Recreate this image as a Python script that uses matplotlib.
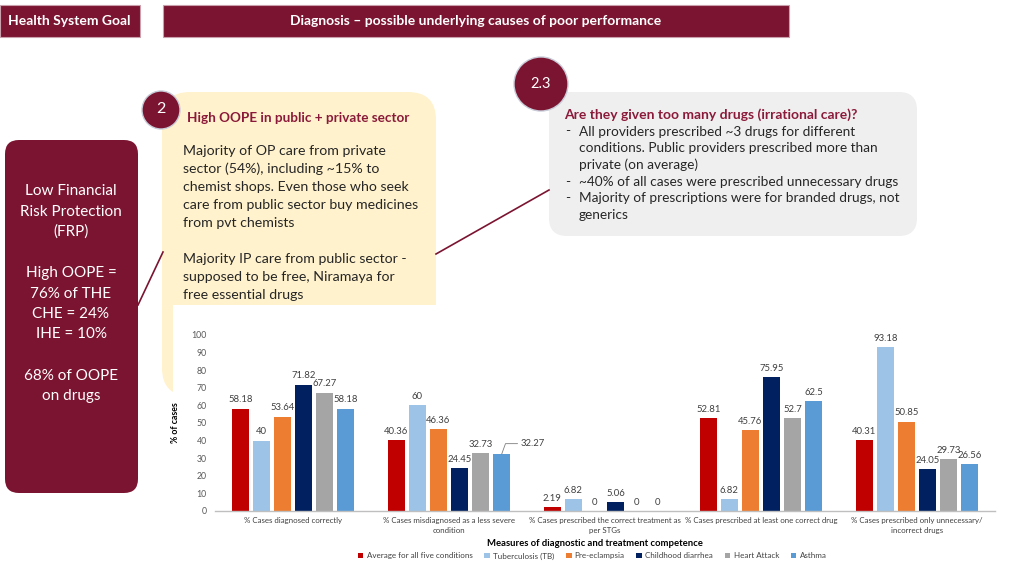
import matplotlib
matplotlib.use("Agg")
import matplotlib.pyplot as plt
from matplotlib.patches import FancyBboxPatch, Rectangle, Circle
from matplotlib.lines import Line2D
import numpy as np

plt.rcParams['font.family'] = ['Lato', 'DejaVu Sans']

# ---------------- data ----------------
categories = [
    "% Cases diagnosed correctly",
    "% Cases misdiagnosed as a less severe\ncondition",
    "% Cases prescribed the correct treatment as\nper STGs",
    "% Cases prescribed at least one correct drug",
    "% Cases prescribed only unnecessary/\nincorrect drugs",
]
series_names = ["Average for all five conditions", "Tuberculosis (TB)", "Pre-eclampsia",
                "Childhood diarrhea", "Heart Attack", "Asthma"]
avg_all = [58.18, 40.36, 2.19, 52.81, 40.31]
tb = [40, 60, 6.82, 6.82, 93.18]
pre_eclampsia = [53.64, 46.36, 0, 45.76, 50.85]
childhood_diarrhea = [71.82, 24.45, 5.06, 75.95, 24.05]
heart_attack = [67.27, 32.73, 0, 52.7, 29.73]
asthma = [58.18, 32.27, 0, 62.5, 26.56]
yticks = list(range(0, 101, 10))

series = [avg_all, tb, pre_eclampsia, childhood_diarrhea, heart_attack, asthma]
colors = ["#C00000", "#9DC3E6", "#ED7D31", "#002060", "#A5A5A5", "#5B9BD5"]

MAROON = "#7B1430"
W, H = 1024, 576
fig = plt.figure(figsize=(W / 100, H / 100), dpi=100)

# background overlay axes in pixel coords
bg = fig.add_axes([0, 0, 1, 1], zorder=0)
bg.set_xlim(0, W)
bg.set_ylim(H, 0)
bg.axis("off")

def rbox(x0, y0, x1, y1, r, fc, ec="none", lw=0, z=1):
    p = FancyBboxPatch((x0 + r, y0 + r), (x1 - x0) - 2 * r, (y1 - y0) - 2 * r,
                       boxstyle=f"round,pad={r}", fc=fc, ec=ec, lw=lw, zorder=z)
    bg.add_patch(p)

# header boxes
bg.add_patch(Rectangle((0, 5), 140, 32, fc=MAROON, ec="#C9A0AC", lw=0.8, zorder=1))
bg.text(69, 21, "Health System Goal", color="white", fontsize=10, fontweight="bold",
        ha="center", va="center", zorder=2)
bg.add_patch(Rectangle((163, 5), 626, 32, fc=MAROON, ec="#C9A0AC", lw=0.8, zorder=1))
bg.text(476, 21, "Diagnosis \u2013 possible underlying causes of poor performance", color="white",
        fontsize=10, fontweight="bold", ha="center", va="center", zorder=2)

# left maroon box
rbox(5, 140, 138, 493, 14, MAROON, z=1)
left_lines = ["Low Financial", "Risk Protection", "(FRP)", "", "High OOPE =", "76% of THE",
              "CHE = 24%", "IHE = 10%", "", "68% of OOPE", "on drugs"]
for i, t in enumerate(left_lines):
    bg.text(71, 191 + i * 20.5, t, color="white", fontsize=11, ha="center", va="center", zorder=2)

# yellow box
rbox(162, 92, 436, 396, 28, "#FFF2CC", z=1)
bg.text(187, 118, "High OOPE in public + private sector", color="#8B1A3A", fontsize=9.7,
        fontweight="bold", ha="left", va="center", zorder=2)
y_lines = ["Majority of OP care from private", "sector (54%), including ~15% to",
           "chemist shops. Even those who seek", "care from public sector buy medicines",
           "from pvt chemists", "", "Majority IP care from public sector -",
           "supposed to be free, Niramaya for", "free essential drugs"]
for i, t in enumerate(y_lines):
    bg.text(183, 151 + i * 18, t, color="#262626", fontsize=10.2, ha="left", va="center", zorder=2)

# gray box
rbox(549, 92, 917, 236, 18, "#EFEFEF", z=1)
bg.text(564, 115, "Are they given too many drugs (irrational care)?", color="#8B1A3A", fontsize=10,
        fontweight="bold", ha="left", va="center", zorder=2)
g_lines = [("-", "All providers prescribed ~3 drugs for different"),
           ("", "conditions. Public providers prescribed more than"),
           ("", "private (on average)"),
           ("-", "~40% of all cases were prescribed unnecessary drugs"),
           ("-", "Majority of prescriptions were for branded drugs, not"),
           ("", "generics")]
for i, (b, t) in enumerate(g_lines):
    yy = 131.5 + i * 16.7
    if b:
        bg.text(565, yy, b, color="#262626", fontsize=9.8, ha="left", va="center", zorder=2)
    bg.text(579, yy, t, color="#262626", fontsize=9.8, ha="left", va="center", zorder=2)

# connector lines
bg.add_line(Line2D([138, 163], [305, 252], color=MAROON, lw=1.2, zorder=1.5))
bg.add_line(Line2D([436, 549], [254, 190], color=MAROON, lw=1.2, zorder=1.5))

# circles
bg.add_patch(Circle((161, 110), 19, fc=MAROON, ec="#C8CCD8", lw=1.0, zorder=3))
bg.text(161, 109, "2", color="white", fontsize=11.5, ha="center", va="center", zorder=4)
bg.add_patch(Circle((541, 84), 27, fc=MAROON, ec="#C8CCD8", lw=1.0, zorder=3))
bg.text(541, 84, "2.3", color="white", fontsize=10.5, ha="center", va="center", zorder=4)

# white chart area
bg.add_patch(Rectangle((173, 305), W - 173, H - 305, fc="white", ec="none", zorder=2.5))

# ---------------- chart ----------------
ax = fig.add_axes([215 / W, (H - 511) / H, 780 / W, 176 / H], zorder=2)
ax.patch.set_alpha(0)
x = np.arange(len(categories))
step, bw = 0.135, 0.109
for i, (vals, c) in enumerate(zip(series, colors)):
    pos = x + (i - 2.5) * step
    ax.bar(pos, vals, width=bw, color=c, label=series_names[i])
    for j, (p, v) in enumerate(zip(pos, vals)):
        lab = f"{v:g}"
        if i == 5 and j == 1:
            ax.annotate(lab, xy=(p, v), xytext=(p + 0.12, v + 6), fontsize=6.8, color="#404040",
                        ha="left", va="center",
                        arrowprops=dict(arrowstyle="-", color="#7F7F7F", lw=0.6,
                                        connectionstyle="angle,angleA=0,angleB=70,rad=0",
                                        shrinkA=0, shrinkB=0))
        else:
            ax.annotate(lab, xy=(p, v), xytext=(0, 3), textcoords="offset points",
                        ha="center", va="bottom", fontsize=6.8, color="#404040")

ax.set_xlim(-0.5, len(categories) - 0.5)
ax.set_ylim(0, 100)
ax.set_yticks(yticks)
ax.tick_params(axis="y", length=0, labelsize=6.3, labelcolor="#595959", pad=6)
ax.set_xticks(x)
ax.set_xticklabels(categories, fontsize=5.7, color="#404040", linespacing=1.6)
ax.tick_params(axis="x", length=0, pad=4)
for s in ["top", "right", "left"]:
    ax.spines[s].set_visible(False)
ax.spines["bottom"].set_color("#BFBFBF")
ax.spines["bottom"].set_linewidth(1.0)
ax.set_ylabel("% of cases", fontsize=6.3, fontweight="bold", color="#000000", labelpad=8)

fig.text(595 / W, 1 - 543 / H, "Measures of diagnostic and treatment competence", fontsize=6.8,
         fontweight="bold", ha="center", va="center", zorder=5)

handles, labels = ax.get_legend_handles_labels()
leg = fig.legend(handles, labels, loc="center", bbox_to_anchor=(592 / W, 1 - 556 / H), ncol=6,
                 fontsize=5.8, frameon=False, handlelength=0.7, handleheight=0.7,
                 handletextpad=0.4, columnspacing=1.45)
for t in leg.get_texts():
    t.set_color("#404040")

fig.savefig("out.png", dpi=100)
